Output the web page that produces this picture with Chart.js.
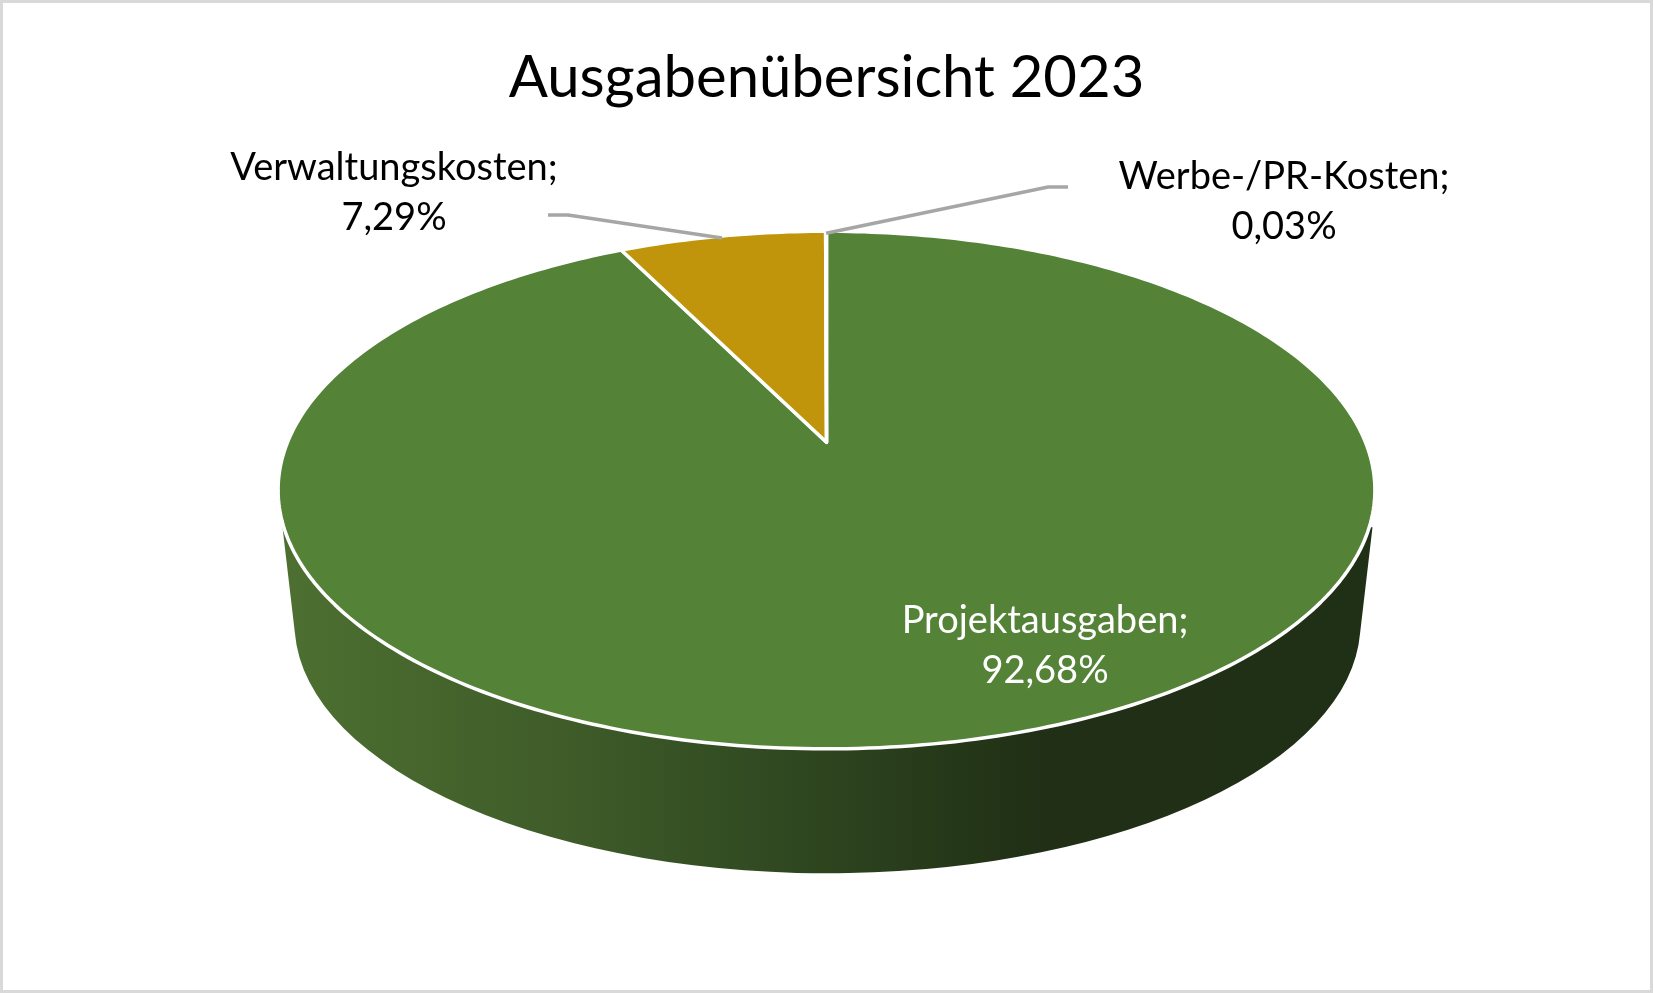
<!DOCTYPE html>
<html lang="de">
<head>
<meta charset="utf-8">
<title>Ausgabenübersicht 2023</title>
<script src="https://cdn.jsdelivr.net/npm/chart.js@4/dist/chart.umd.js"></script>
<style>
  html, body { margin: 0; padding: 0; background: #fff; }
  canvas { display: block; }
</style>
</head>
<body>
<canvas id="chart" width="1653" height="993"></canvas>
<script>
  const categories = ["Projektausgaben", "Verwaltungskosten", "Werbe-/PR-Kosten"];
  const shares = [92.68, 7.29, 0.03];
  const sliceColors = ["#548237", "#c0950b", "#a5a5a5"];

  const fontFamily = "Lato, Carlito, sans-serif";

  // Excel's 3D pie is a circle seen in perspective, so the centre is not the ellipse centre.
  const view = { halfWidth: 539, halfDepth: 250, tilt: 0.1845 };

  function project(arc, angle) {
    const u = Math.cos(angle);
    const v = Math.sin(angle);
    const w = 1 - view.tilt * v;
    return {
      x: arc.x + (view.halfWidth * u) / w,
      y: arc.y + (view.halfDepth * v) / w,
    };
  }

  function drawWall(ctx, arc) {
    const cx = arc.x + 1;
    const gradient = ctx.createLinearGradient(280, 0, 1375, 0);
    gradient.addColorStop(0, "#4d7031");
    gradient.addColorStop(0.256, "#3f5c29");
    gradient.addColorStop(0.484, "#2e4620");
    gradient.addColorStop(0.694, "#202f15");
    gradient.addColorStop(1, "#203016");

    ctx.beginPath();
    ctx.moveTo(cx - 545, arc.y + 85);
    ctx.ellipse(cx, arc.y + 181, 533, 250, 0, Math.PI - 0.04, 0.04, true);
    ctx.lineTo(cx + 545, arc.y + 85);
    ctx.closePath();
    ctx.fillStyle = gradient;
    ctx.fill();
  }

  function drawSlice(ctx, arc) {
    const steps = Math.max(2, Math.ceil((arc.endAngle - arc.startAngle) * 60));
    ctx.beginPath();
    ctx.moveTo(arc.x, arc.y);
    for (let i = 0; i <= steps; i++) {
      const angle = arc.startAngle + ((arc.endAngle - arc.startAngle) * i) / steps;
      const p = project(arc, angle);
      ctx.lineTo(p.x, p.y);
    }
    ctx.closePath();
    ctx.fillStyle = arc.options.backgroundColor;
    ctx.fill();
    ctx.lineWidth = arc.options.borderWidth;
    ctx.strokeStyle = arc.options.borderColor;
    ctx.lineJoin = "round";
    ctx.stroke();
  }

  const framePlugin = {
    id: "frame",
    beforeDraw(chart) {
      const ctx = chart.ctx;
      ctx.save();
      ctx.fillStyle = "#fff";
      ctx.fillRect(0, 0, chart.width, chart.height);
      ctx.strokeStyle = "#d9d9d9";
      ctx.lineWidth = 3;
      ctx.strokeRect(1.5, 1.5, chart.width - 3, chart.height - 3);
      ctx.restore();
    },
  };

  const perspectivePiePlugin = {
    id: "perspectivePie",
    beforeDatasetDraw(chart, args) {
      const ctx = chart.ctx;
      const arcs = args.meta.data;
      ctx.save();
      drawWall(ctx, arcs[0]);
      arcs.forEach((arc) => drawSlice(ctx, arc));
      ctx.restore();
      return false;
    },
  };

  const calloutPlugin = {
    id: "callouts",
    afterDatasetsDraw(chart, args, options) {
      const ctx = chart.ctx;
      const arcs = chart.getDatasetMeta(0).data;
      ctx.save();
      ctx.font = `${options.fontSize}px ${fontFamily}`;
      ctx.textAlign = "center";
      ctx.textBaseline = "alphabetic";
      options.items.forEach((item, i) => {
        const arc = arcs[i];
        if (item.leader) {
          const end = project(arc, (arc.startAngle + arc.endAngle) / 2);
          ctx.beginPath();
          ctx.moveTo(item.leader[0][0], item.leader[0][1]);
          ctx.lineTo(item.leader[1][0], item.leader[1][1]);
          ctx.lineTo(end.x, end.y + 2);
          ctx.strokeStyle = "#a6a6a6";
          ctx.lineWidth = 3.5;
          ctx.stroke();
        }
        const share = shares[i].toLocaleString("de-DE", {
          minimumFractionDigits: 2,
          maximumFractionDigits: 2,
        });
        ctx.fillStyle = item.color;
        ctx.fillText(`${categories[i]};`, item.x, item.y);
        ctx.fillText(`${share}%`, item.x, item.y + options.lineGap);
      });
      ctx.restore();
    },
  };

  new Chart(document.getElementById("chart"), {
    type: "pie",
    data: {
      labels: categories,
      datasets: [
        {
          data: shares,
          backgroundColor: sliceColors,
          borderColor: "#fff",
          borderWidth: 3.5,
        },
      ],
    },
    options: {
      responsive: false,
      animation: false,
      layout: { padding: { bottom: 220 } },
      plugins: {
        legend: { display: false },
        tooltip: { enabled: false },
        title: {
          display: true,
          text: "Ausgabenübersicht 2023",
          color: "#000",
          font: { family: fontFamily, size: 58, weight: "normal", lineHeight: 1.2 },
          padding: { top: 43, bottom: -1 },
        },
        callouts: {
          fontSize: 38,
          lineGap: 50,
          items: [
            { x: 1045, y: 633, color: "#fff" },
            { x: 394, y: 180, color: "#000", leader: [[548, 215], [568, 215]] },
            { x: 1284, y: 189, color: "#000", leader: [[1068, 187], [1048, 187]] },
          ],
        },
      },
    },
    plugins: [framePlugin, perspectivePiePlugin, calloutPlugin],
  });
</script>
</body>
</html>
